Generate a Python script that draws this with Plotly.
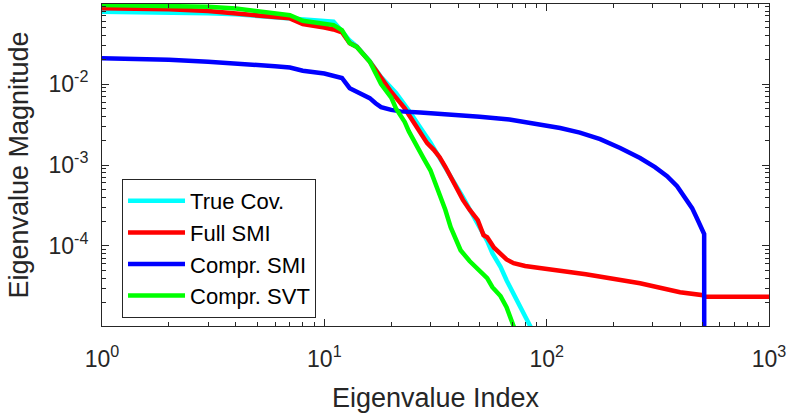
import plotly.graph_objects as go

# ---- data ----
true_idx = [1, 2, 3, 4, 5, 6, 7, 8, 9, 10, 11, 12, 13, 14, 16, 18, 21, 24, 26, 27, 30, 33, 37, 42, 46, 50, 54, 57, 62, 66, 71, 76, 80, 84, 90]
true_val = [0.0783, 0.0770, 0.0750, 0.0730, 0.0700, 0.0680, 0.0660, 0.0640, 0.0620, 0.0600, 0.0589, 0.0450, 0.0345, 0.0292, 0.0192, 0.0122, 0.0078, 0.0047, 0.0033, 0.0029, 0.0019, 0.00125, 0.00072, 0.00040, 0.00026, 0.00017, 0.000115, 0.0000812, 0.000055, 0.0000377, 0.000026, 0.0000175, 0.0000135, 0.0000104, 0.0000072]

full_idx = [1, 2, 3, 4, 5, 6, 7, 8, 9, 10, 11, 12, 13, 14, 16, 18, 20, 23, 25, 27, 28, 29, 31, 33, 35, 37, 40, 42, 45, 49, 52, 54, 58, 62, 66, 71, 80, 93, 150, 263, 398, 505, 512, 1000]
full_val = [0.0863, 0.0840, 0.0800, 0.0750, 0.0693, 0.0670, 0.0650, 0.0552, 0.0530, 0.0500, 0.0474, 0.0437, 0.0321, 0.0290, 0.0190, 0.0118, 0.0080, 0.0050, 0.0035, 0.0026, 0.0022, 0.00186, 0.00155, 0.00125, 0.00095, 0.00071, 0.00050, 0.00037, 0.00028, 0.000208, 0.000136, 0.000128, 0.000095, 0.0000812, 0.000068, 0.0000611, 0.0000565, 0.0000533, 0.0000447, 0.0000346, 0.0000268, 0.0000246, 0.0000235, 0.0000235]

csmi_idx = [1, 2, 3, 5, 6, 7, 8, 10, 11, 12, 13, 14, 15, 16, 17, 18, 20, 22, 27, 37, 50, 68, 93, 115, 141, 174, 214, 263, 307, 348, 386, 419, 451, 474, 495, 505, 511, 512]
csmi_val = [0.0208, 0.0200, 0.0189, 0.0175, 0.0166, 0.0160, 0.0146, 0.0135, 0.0128, 0.0119, 0.0089, 0.0080, 0.0075, 0.0067, 0.0058, 0.0052, 0.0048, 0.0046, 0.00444, 0.00425, 0.00396, 0.00364, 0.00315, 0.00286, 0.00251, 0.00209, 0.00162, 0.00122, 0.00094, 0.000728, 0.000547, 0.000400, 0.000293, 0.000220, 0.000166, 0.000150, 0.000140, 1e-8]

csvt_idx = [1, 2, 3, 4, 5, 6, 7, 8, 9, 10, 11, 12, 13, 14, 16, 18, 20, 21, 23, 24, 25, 26, 28, 30, 33, 35, 37, 41, 45, 50, 54, 57, 62, 66, 69, 71, 74]
csvt_val = [0.0948, 0.0935, 0.0905, 0.0860, 0.0790, 0.0750, 0.0710, 0.0606, 0.0580, 0.0560, 0.0536, 0.0465, 0.0321, 0.0287, 0.0190, 0.0100, 0.0068, 0.0050, 0.0034, 0.0026, 0.0021, 0.00166, 0.00120, 0.00086, 0.00045, 0.00028, 0.00017, 0.0000885, 0.000065, 0.000050, 0.000040, 0.0000309, 0.000024, 0.0000175, 0.000013, 0.0000104, 0.0000075]

series_names = ["True Cov.", "Full SMI", "Compr. SMI", "Compr. SVT"]
series_colors = ["#00FFFF", "#FF0000", "#0000FF", "#00FF00"]

x_tick_vals = [1, 10, 100, 1000]
x_tick_text = ["10<sup>0</sup>", "10<sup>1</sup>", "10<sup>2</sup>", "10<sup>3</sup>"]
y_tick_vals = [1e-4, 1e-3, 1e-2]
y_tick_text = ["10<sup>-4</sup>", "10<sup>-3</sup>", "10<sup>-2</sup>"]

x_minor = [m * 10 ** k for k in range(0, 3) for m in range(2, 10)]
y_minor = [m * 10 ** k for k in range(-5, -1) for m in range(2, 10)]

FONT = "Liberation Sans"
AX = "#262626"

fig = go.Figure()
all_x = [true_idx, full_idx, csmi_idx, csvt_idx]
all_y = [true_val, full_val, csmi_val, csvt_val]
for xs, ys, nm, col in zip(all_x, all_y, series_names, series_colors):
    fig.add_trace(go.Scatter(x=xs, y=ys, mode="lines", name=nm,
                             line=dict(color=col, width=4.5)))

axis_common = dict(
    showline=True, linecolor=AX, linewidth=1, mirror="allticks",
    ticks="inside", ticklen=7, tickwidth=1, tickcolor=AX,
    showgrid=False, zeroline=False,
    tickfont=dict(family=FONT, size=23, color=AX),
)

fig.update_xaxes(type="log", range=[0, 3], tickmode="array",
                 tickvals=x_tick_vals, ticktext=x_tick_text,
                 minor=dict(tickmode="array", tickvals=x_minor, ticks="inside",
                            ticklen=4, tickcolor=AX, showgrid=False),
                 title=dict(text="Eigenvalue Index", font=dict(family=FONT, size=27, color=AX), standoff=17),
                 ticklabelstandoff=12,
                 **axis_common)
fig.update_yaxes(type="log", range=[-4.99, -1.01], tickmode="array",
                 tickvals=y_tick_vals, ticktext=y_tick_text,
                 minor=dict(tickmode="array", tickvals=y_minor, ticks="inside",
                            ticklen=4, tickcolor=AX, showgrid=False),
                 title=dict(text="Eigenvalue Magnitude", font=dict(family=FONT, size=27, color=AX), standoff=12),
                 ticklabelstandoff=8,
                 **axis_common)

fig.update_layout(
    width=789, height=414,
    margin=dict(l=102, r=20, t=4, b=88),
    paper_bgcolor="white", plot_bgcolor="white",
    font=dict(family=FONT, size=22, color=AX),
    legend=dict(x=0.03, y=0.4565, xanchor="left", yanchor="top",
                bgcolor="white", bordercolor=AX, borderwidth=1,
                font=dict(family=FONT, size=22, color="black"),
                itemwidth=57, tracegroupgap=0),
    showlegend=True,
)

fig.write_html("out.html")
